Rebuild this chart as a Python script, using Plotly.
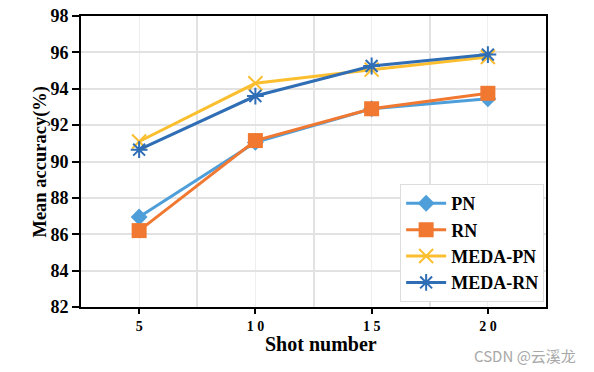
import plotly.graph_objects as go

shots = [5, 10, 15, 20]
pn = [86.95, 91.05, 92.9, 93.45]
rn = [86.2, 91.15, 92.9, 93.75]
meda_pn = [91.1, 94.3, 95.05, 95.75]
meda_rn = [90.65, 93.6, 95.25, 95.88]

y_ticks = [82, 84, 86, 88, 90, 92, 94, 96, 98]
x_ticks = [5, 10, 15, 20]
x_tick_labels = ["5", "1 0", "1 5", "2 0"]

font = "Liberation Serif"

fig = go.Figure()
series = [
    ("PN", pn, "#4E9FD9", dict(symbol="diamond", size=13)),
    ("RN", rn, "#F07830", dict(symbol="square", size=15)),
    ("MEDA-PN", meda_pn, "#FBBE2E", dict(symbol="x-thin-open", size=14, line=dict(width=2, color="#FBBE2E"))),
    ("MEDA-RN", meda_rn, "#2F6DB5", dict(symbol="asterisk-open", size=14, line=dict(width=2, color="#2F6DB5"))),
]
for name, ys, col, mk in series:
    fig.add_trace(go.Scatter(
        x=shots, y=ys, name=name, mode="lines+markers",
        line=dict(color=col, width=3),
        marker=dict(color=col, **mk),
    ))

fig.update_layout(
    width=594, height=372,
    margin=dict(l=81, r=48, t=16, b=65, autoexpand=False),
    paper_bgcolor="white", plot_bgcolor="white",
    font=dict(family=font, color="black"),
    showlegend=True,
    legend=dict(
        x=0.996, y=0.017, xanchor="right", yanchor="bottom",
        bgcolor="white", bordercolor="#DDDDDD", borderwidth=1,
        font=dict(family=font, size=18, color="black", weight="bold"),
        itemwidth=40, tracegroupgap=0,
    ),
    xaxis=dict(
        range=[2.5, 22.5], tickvals=x_ticks, ticktext=x_tick_labels,
        showgrid=True, gridcolor="#EEEEEE", gridwidth=1,
        minor=dict(tickvals=[7.5, 12.5, 17.5], showgrid=True, gridcolor="#E2E2E2", gridwidth=2),
        showline=True, linecolor="black", linewidth=2, mirror=True,
        ticks="outside", ticklen=5, tickwidth=2, tickcolor="black",
        tickfont=dict(family=font, size=14, weight="bold"),
        zeroline=False,
    ),
    yaxis=dict(
        range=[82, 98], tickvals=y_ticks,
        showgrid=True, gridcolor="#E2E2E2", gridwidth=1.5,
        showline=True, linecolor="black", linewidth=2, mirror=True,
        ticks="outside", ticklen=7, tickwidth=2, tickcolor="black",
        tickfont=dict(family=font, size=18, weight="bold"),
        ticklabeloverflow="allow",
        zeroline=False,
    ),
    annotations=[
        dict(text="Shot number", x=0.5, y=-0.127, xref="paper", yref="paper",
             xanchor="center", yanchor="middle", showarrow=False, xshift=7,
             font=dict(family=font, size=20, weight="bold")),
        dict(text="Mean accuracy(%)", x=-0.088, y=0.5, xref="paper", yref="paper",
             xanchor="center", yanchor="middle", showarrow=False, textangle=-90,
             font=dict(family=font, size=18.5, weight="bold")),
        dict(text="CSDN @云溪龙", x=1.069, y=-0.165, xref="paper", yref="paper",
             xanchor="right", yanchor="middle", showarrow=False,
             font=dict(family="Noto Sans CJK SC", size=15, color="#A8A8A8")),
    ],
)

fig.write_html(
    "out.html",
    config={"displayModeBar": False},
    post_script="document.body.style.margin='0';document.body.style.overflow='hidden';",
)
